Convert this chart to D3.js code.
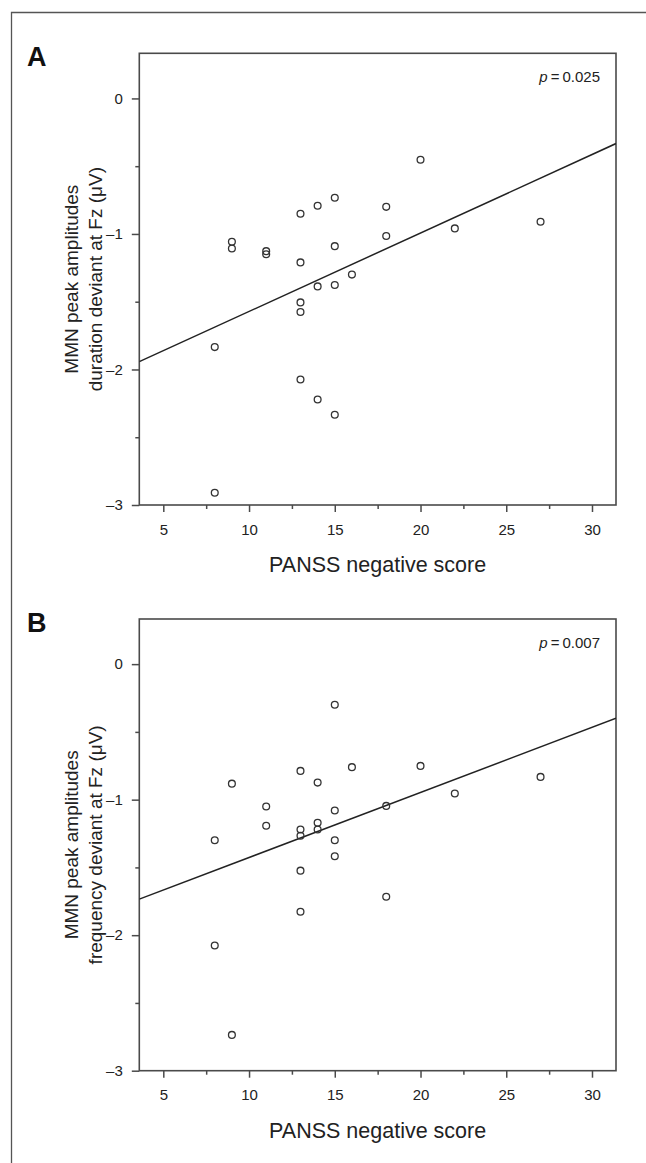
<!DOCTYPE html>
<html>
<head>
<meta charset="utf-8">
<script src="https://cdn.jsdelivr.net/npm/d3@7"></script>
<style>
  html, body { margin: 0; padding: 0; background: #fff; }
  svg { display: block; }
  text { font-family: "Liberation Sans", Arial, Helvetica, sans-serif; fill: #222; }
</style>
</head>
<body>
<svg id="chart" width="646" height="1163"></svg>
<script>
// ---------- data ----------
const panelLabels = ["A", "B"];
const yTitlesA = ["MMN peak amplitudes", "duration deviant at Fz (\u03BCV)"];
const yTitlesB = ["MMN peak amplitudes", "frequency deviant at Fz (\u03BCV)"];
const xTitle = "PANSS negative score";
const pValues = ["0.025", "0.007"];

const xMajorTicks = [5, 10, 15, 20, 25, 30];
const xMinorTicks = [7.5, 12.5, 17.5, 22.5, 27.5];
const yMajorTicks = [0, -1, -2, -3];
const yMinorTicks = [-0.5, -1.5, -2.5];

// Panel A: PANSS negative score vs duration-deviant MMN amplitude
const panssA = [8, 8, 9, 9, 11, 11, 13, 13, 13, 13, 13, 14, 14, 14, 15, 15, 15, 15, 16, 18, 18, 20, 22, 27];
const mmnDuration = [-1.835, -2.91, -1.058, -1.107, -1.127, -1.15, -0.851, -1.21, -1.505, -1.576, -2.074,
  -0.792, -1.387, -2.221, -0.733, -1.09, -1.377, -2.334, -1.30, -0.80, -1.015, -0.452, -0.959, -0.91];
// fit line A [intercept, slope]
const fitA = [-2.151, 0.0579];

// Panel B: PANSS negative score vs frequency-deviant MMN amplitude
const panssB = [8, 8, 9, 9, 11, 11, 13, 13, 13, 13, 13, 14, 14, 14, 15, 15, 15, 15, 16, 18, 18, 20, 22, 27];
const mmnFrequency = [-1.30, -2.076, -0.882, -2.736, -1.05, -1.193, -0.788, -1.22, -1.266, -1.524, -1.827,
  -0.874, -1.17, -1.22, -0.30, -1.08, -1.30, -1.418, -0.76, -1.046, -1.716, -0.751, -0.955, -0.832];
// fit line B [intercept, slope]
const fitB = [-1.907, 0.048];

const xDomain = [3.6, 31.4];
const yDomain = [-3, 0.333];

// ---------- drawing ----------
const svg = d3.select("#chart");
const axisColor = "#4a4a4a";

// outer frame (left + top edges)
svg.append("path")
  .attr("d", "M11.5,1163 L11.5,12.5 L646,12.5")
  .attr("fill", "none").attr("stroke", "#555").attr("stroke-width", 1.3);

function panel(cfg) {
  const left = 139.3, right = 616, top = cfg.top, bottom = cfg.top + 451.7;
  const x = d3.scaleLinear().domain(xDomain).range([left, right]);
  const y = d3.scaleLinear().domain(yDomain).range([bottom, top]);
  const g = svg.append("g");

  const clipId = "clip" + cfg.label;
  svg.append("clipPath").attr("id", clipId).append("rect")
    .attr("x", left).attr("y", top).attr("width", right - left).attr("height", bottom - top);

  // panel letter
  g.append("text").attr("x", 27).attr("y", top + 13)
    .style("font-size", "27px").style("font-weight", "bold").style("fill", "#111")
    .text(cfg.label);

  // x axis ticks
  const xMajor = g.append("g").attr("transform", `translate(0,${bottom})`)
    .call(d3.axisBottom(x).tickValues(xMajorTicks).tickSize(7).tickPadding(12).tickFormat(d3.format("d")));
  const xMinor = g.append("g").attr("transform", `translate(0,${bottom})`)
    .call(d3.axisBottom(x).tickValues(xMinorTicks).tickSize(4).tickFormat(""));
  // y axis ticks
  const yMajor = g.append("g").attr("transform", `translate(${left},0)`)
    .call(d3.axisLeft(y).tickValues(yMajorTicks).tickSize(7.5).tickPadding(9)
      .tickFormat(d => d === 0 ? "0" : "\u2013" + Math.abs(d)));
  const yMinor = g.append("g").attr("transform", `translate(${left},0)`)
    .call(d3.axisLeft(y).tickValues(yMinorTicks).tickSize(4).tickFormat(""));
  [xMajor, xMinor, yMajor, yMinor].forEach(a => {
    a.select(".domain").remove();
    a.selectAll(".tick line").attr("stroke", axisColor).attr("stroke-width", 1.5);
    a.selectAll(".tick text").style("font-size", "15px").style("fill", "#222")
      .style("font-family", "'Liberation Sans', Arial, sans-serif");
  });

  // plot frame
  g.append("rect").attr("x", left).attr("y", top)
    .attr("width", right - left).attr("height", bottom - top)
    .attr("fill", "none").attr("stroke", axisColor).attr("stroke-width", 1.6);

  // fit line
  const [b0, b1] = cfg.fit;
  g.append("line").attr("clip-path", `url(#${clipId})`)
    .attr("x1", x(xDomain[0])).attr("y1", y(b0 + b1 * xDomain[0]))
    .attr("x2", x(xDomain[1])).attr("y2", y(b0 + b1 * xDomain[1]))
    .attr("stroke", "#222").attr("stroke-width", 1.5);

  // points
  g.append("g").selectAll("circle")
    .data(cfg.xs.map((v, i) => [v, cfg.ys[i]]))
    .join("circle")
    .attr("cx", d => x(d[0])).attr("cy", d => y(d[1])).attr("r", 3.4)
    .attr("fill", "none").attr("stroke", "#333").attr("stroke-width", 1.3);

  // p value
  const pt = g.append("text").attr("x", right - 16).attr("y", top + 28.5)
    .attr("text-anchor", "end").style("font-size", "15px");
  pt.append("tspan").style("font-style", "italic").text("p");
  pt.append("tspan").text("\u2009=\u2009" + cfg.p);

  // x title
  g.append("text").attr("x", (left + right) / 2).attr("y", bottom + 67)
    .attr("text-anchor", "middle").style("font-size", "21.5px").text(xTitle);

  // y title (two lines, rotated)
  const cy = (top + bottom) / 2;
  cfg.yTitles.forEach((t, i) => {
    g.append("text")
      .attr("transform", `translate(${78 + i * 24},${cy}) rotate(-90)`)
      .attr("text-anchor", "middle").style("font-size", "19px").text(t);
  });
}

panel({ label: panelLabels[0], top: 53.3, xs: panssA, ys: mmnDuration, fit: fitA, p: pValues[0], yTitles: yTitlesA });
panel({ label: panelLabels[1], top: 619, xs: panssB, ys: mmnFrequency, fit: fitB, p: pValues[1], yTitles: yTitlesB });
</script>
</body>
</html>
